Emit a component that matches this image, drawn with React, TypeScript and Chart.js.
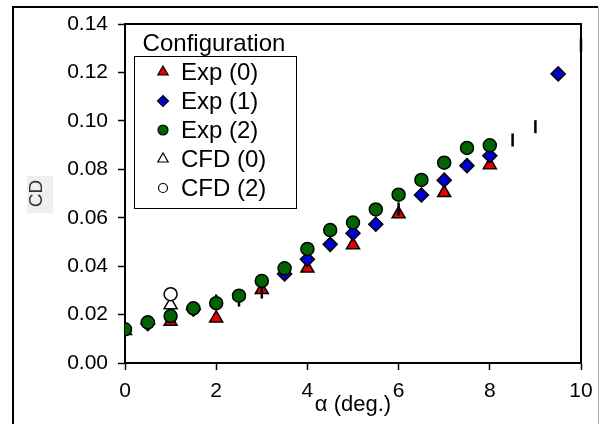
import React, { useEffect, useRef } from 'react';
import { Chart, registerables } from 'chart.js';
import { drawPoint } from 'chart.js/helpers';

Chart.register(...registerables);

// ---- data ----
const alphaExp0 = [0, 1, 2, 3, 4, 5, 6, 7, 8];
const cdExp0 = [0.0133, 0.0171, 0.0185, 0.0302, 0.0391, 0.0487, 0.0615, 0.0703, 0.0818];

const alphaExp1 = [0.5, 1.5, 3.5, 4, 4.5, 5, 5.5, 6.5, 7, 7.5, 8, 9.5];
const cdExp1 = [0.0162, 0.0222, 0.0368, 0.0428, 0.049, 0.0536, 0.0573, 0.0694, 0.0755, 0.0815, 0.0856, 0.1194];

const alphaExp2 = [0, 0.5, 1, 1.5, 2, 2.5, 3, 3.5, 4, 4.5, 5, 5.5, 6, 6.5, 7, 7.5, 8];
const cdExp2 = [0.0139, 0.0168, 0.0194, 0.0226, 0.0247, 0.0278, 0.0339, 0.0391, 0.0471, 0.0549, 0.058, 0.0634, 0.0695, 0.0756, 0.0827, 0.0888, 0.0899];

const alphaCfd0 = [1];
const cdCfd0 = [0.024];

const alphaCfd2 = [1];
const cdCfd2 = [0.0284];

// short vertical error marks without markers
const alphaMarks = [2, 2.5, 3, 6, 8.5, 9, 10];
const cdMarks = [0.0256, 0.026, 0.0293, 0.0636, 0.0921, 0.0976, 0.1313];

const xTicks = [0, 2, 4, 6, 8, 10];
const yTicks = [0, 0.02, 0.04, 0.06, 0.08, 0.1, 0.12, 0.14];

const legendTitle = 'Configuration';
const legendLabels = ['Exp (0)', 'Exp (1)', 'Exp (2)', 'CFD (0)', 'CFD (2)'];

const FONT = "'Liberation Sans', Arial, sans-serif";
const RED = '#e60000';
const BLUE = '#0000d2';
const GREEN = '#006400';

const pts = (xs: number[], ys: number[]) => xs.map((x, i) => ({ x, y: ys[i] }));

const legendStyles = [
  { pointStyle: 'triangle', radius: 6, fill: RED },
  { pointStyle: 'rectRot', radius: 5.5, fill: BLUE },
  { pointStyle: 'circle', radius: 5, fill: GREEN },
  { pointStyle: 'triangle', radius: 6, fill: '#ffffff' },
  { pointStyle: 'circle', radius: 4.5, fill: '#ffffff' },
];

const decor = {
  id: 'decor',
  beforeDraw(chart: any) {
    const ctx = chart.ctx;
    ctx.save();
    ctx.fillStyle = '#ffffff';
    ctx.fillRect(0, 0, chart.width, chart.height);
    ctx.fillStyle = '#efefef';
    ctx.fillRect(27, 176, 26, 37);
    ctx.strokeStyle = '#000';
    ctx.lineWidth = 2;
    ctx.beginPath();
    ctx.moveTo(13, 430);
    ctx.lineTo(13, 7);
    ctx.lineTo(598, 7);
    ctx.stroke();
    ctx.strokeStyle = '#b0b0b0';
    ctx.lineWidth = 1;
    ctx.beginPath();
    ctx.moveTo(598.5, 7);
    ctx.lineTo(598.5, 424);
    ctx.stroke();
    ctx.restore();
  },
  afterDraw(chart: any) {
    const ctx = chart.ctx;
    const { left, right, top, bottom } = chart.chartArea;
    ctx.save();
    ctx.strokeStyle = '#000';
    ctx.lineWidth = 2;
    ctx.beginPath();
    ctx.moveTo(left, top);
    ctx.lineTo(right, top);
    ctx.lineTo(right, bottom);
    ctx.stroke();

    // legend
    ctx.fillStyle = '#000';
    ctx.font = `24px ${FONT}`;
    ctx.textAlign = 'center';
    ctx.textBaseline = 'middle';
    ctx.fillText(legendTitle, 214, 44);
    ctx.lineWidth = 1;
    ctx.strokeRect(134.5, 56.5, 162, 152);
    ctx.textAlign = 'left';
    legendLabels.forEach((lab, i) => {
      const y = 72 + i * 29;
      const st = legendStyles[i];
      ctx.fillStyle = st.fill;
      ctx.strokeStyle = '#000';
      ctx.lineWidth = 1.2;
      drawPoint(ctx, { pointStyle: st.pointStyle, radius: st.radius, borderWidth: 1.2, rotation: 0 } as any, 163, y);
      ctx.fillStyle = '#000';
      ctx.fillText(lab, 181, y + 1);
    });
    ctx.restore();
  },
};

export default function App() {
  const ref = useRef<HTMLCanvasElement>(null);
  useEffect(() => {
    if (!ref.current) return;
    const marker = (color: string, style: string, r: number) => ({
      pointStyle: style,
      pointRadius: r,
      pointHoverRadius: r,
      pointBackgroundColor: color,
      pointBorderColor: '#000',
      pointBorderWidth: 1.5,
      showLine: false,
    });
    const chart = new Chart(ref.current, {
      type: 'scatter',
      data: {
        datasets: [
          { label: 'CFD (2)', data: pts(alphaCfd2, cdCfd2), order: 0, ...marker('#ffffff', 'circle', 6.5) } as any,
          { label: 'CFD (0)', data: pts(alphaCfd0, cdCfd0), order: 1, ...marker('#ffffff', 'triangle', 7.5) } as any,
          { label: 'Exp (2)', data: pts(alphaExp2, cdExp2), order: 2, ...marker(GREEN, 'circle', 6.5) } as any,
          { label: 'Exp (1)', data: pts(alphaExp1, cdExp1), order: 3, ...marker(BLUE, 'rectRot', 7) } as any,
          {
            label: 'marks', data: pts(alphaMarks, cdMarks), order: 4, clip: false,
            pointStyle: 'line', rotation: 90, pointRadius: 6.5, pointBorderColor: '#000', pointBorderWidth: 2.5,
            pointBackgroundColor: '#000', showLine: false,
          } as any,
          { label: 'Exp (0)', data: pts(alphaExp0, cdExp0), order: 5, ...marker(RED, 'triangle', 7.5) } as any,
        ],
      },
      options: {
        responsive: false,
        animation: false,
        devicePixelRatio: 1,
        layout: { padding: { left: 0, top: 24, right: 18, bottom: 0 } },
        plugins: { legend: { display: false }, tooltip: { enabled: false } },
        scales: {
          x: {
            type: 'linear',
            min: 0,
            max: 10,
            afterBuildTicks: (s: any) => { s.ticks = xTicks.map((v) => ({ value: v })); },
            afterFit: (s: any) => { s.height = 61; s.paddingLeft = 0; s.paddingRight = 0; },
            ticks: { color: '#000', font: { family: FONT, size: 21 }, padding: 9, maxRotation: 0 },
            grid: { drawOnChartArea: false, tickLength: 7, tickColor: '#000', tickWidth: 1.5 },
            border: { color: '#000', width: 2 },
            title: { display: true, text: 'α (deg.)', color: '#000', font: { family: FONT, size: 22 }, padding: { top: 0, bottom: 6 } },
          },
          y: {
            type: 'linear',
            min: 0,
            max: 0.14,
            afterBuildTicks: (s: any) => { s.ticks = yTicks.map((v) => ({ value: v })); },
            afterFit: (s: any) => { s.width = 125; s.paddingTop = 0; s.paddingBottom = 0; },
            ticks: { color: '#000', font: { family: FONT, size: 21 }, padding: 10, callback: (v: any) => Number(v).toFixed(2) },
            grid: { drawOnChartArea: false, tickLength: 7, tickColor: '#000', tickWidth: 1.5 },
            border: { color: '#000', width: 2 },
            title: { display: true, text: 'CD', color: '#333', font: { family: FONT, size: 19 }, padding: { top: 25, bottom: 0 } },
          },
        },
      },
      plugins: [decor],
    } as any);
    return () => chart.destroy();
  }, []);
  return (
    <div style={{ position: 'fixed', left: 0, top: 0, width: 599, height: 424, background: '#fff' }}>
      <canvas ref={ref} width={599} height={424} style={{ display: 'block', width: 599, height: 424 }} />
    </div>
  );
}
